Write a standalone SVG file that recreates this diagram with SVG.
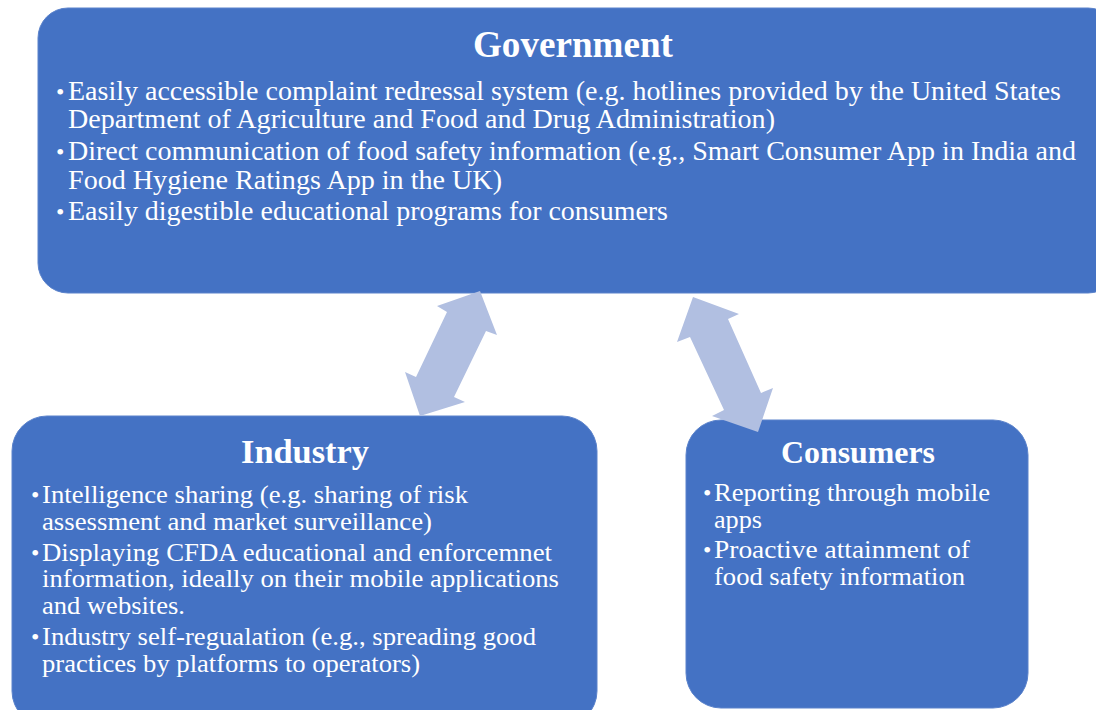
<svg xmlns="http://www.w3.org/2000/svg" width="1096" height="710" viewBox="0 0 1096 710">
<style>
.box{fill:#4472C4;stroke:#5A82CB;stroke-width:1}
.arrow{fill:#B1BFE1}
text{font-family:"Liberation Serif","Times New Roman",serif;fill:#FFFFFF}
.title{font-weight:bold;text-anchor:middle}
.g{font-size:27px}
.s{font-size:25px}
.b{font-size:24px}
</style>
<rect width="1096" height="710" fill="#FFFFFF"/>
<g id="government">
<rect class="box" x="38" y="8" width="1080" height="285" rx="30" ry="30"/>
<text class="title" x="573" y="57" font-size="37" textLength="200" lengthAdjust="spacingAndGlyphs">Government</text>
<text class="b" x="56" y="100">•</text>
<text class="g" x="68" y="100" textLength="993" lengthAdjust="spacingAndGlyphs">Easily accessible complaint redressal system (e.g. hotlines provided by the United States</text>
<text class="g" x="68" y="128" textLength="707" lengthAdjust="spacingAndGlyphs">Department of Agriculture and Food and Drug Administration)</text>
<text class="b" x="56" y="160">•</text>
<text class="g" x="68" y="160" textLength="1008" lengthAdjust="spacingAndGlyphs">Direct communication of food safety information (e.g., Smart Consumer App in India and</text>
<text class="g" x="68" y="189" textLength="434" lengthAdjust="spacingAndGlyphs">Food Hygiene Ratings App in the UK)</text>
<text class="b" x="56" y="220">•</text>
<text class="g" x="68" y="220" textLength="600" lengthAdjust="spacingAndGlyphs">Easily digestible educational programs for consumers</text>
</g>
<g id="industry">
<rect class="box" x="12" y="416" width="585" height="310" rx="35" ry="35"/>
<text class="title" x="305" y="463" font-size="34" textLength="128" lengthAdjust="spacingAndGlyphs">Industry</text>
<text class="b" x="31" y="503">•</text>
<text class="s" x="42" y="503" textLength="426" lengthAdjust="spacingAndGlyphs">Intelligence sharing (e.g. sharing of risk</text>
<text class="s" x="42" y="530" textLength="390" lengthAdjust="spacingAndGlyphs">assessment and market surveillance)</text>
<text class="b" x="31" y="561">•</text>
<text class="s" x="42" y="561" textLength="510" lengthAdjust="spacingAndGlyphs">Displaying CFDA educational and enforcemnet</text>
<text class="s" x="42" y="587" textLength="517" lengthAdjust="spacingAndGlyphs">information, ideally on their mobile applications</text>
<text class="s" x="42" y="614" textLength="143" lengthAdjust="spacingAndGlyphs">and websites.</text>
<text class="b" x="31" y="645">•</text>
<text class="s" x="42" y="645" textLength="494" lengthAdjust="spacingAndGlyphs">Industry self-regualation (e.g., spreading good</text>
<text class="s" x="42" y="672" textLength="378" lengthAdjust="spacingAndGlyphs">practices by platforms to operators)</text>
</g>
<g id="consumers">
<rect class="box" x="686" y="420" width="342" height="288" rx="35" ry="35"/>
<text class="title" x="858" y="463" font-size="32" textLength="154" lengthAdjust="spacingAndGlyphs">Consumers</text>
<text class="b" x="703" y="501">•</text>
<text class="s" x="714" y="501" textLength="276" lengthAdjust="spacingAndGlyphs">Reporting through mobile</text>
<text class="s" x="714" y="528" textLength="48" lengthAdjust="spacingAndGlyphs">apps</text>
<text class="b" x="703" y="558">•</text>
<text class="s" x="714" y="558" textLength="256" lengthAdjust="spacingAndGlyphs">Proactive  attainment of</text>
<text class="s" x="714" y="585" textLength="251" lengthAdjust="spacingAndGlyphs">food safety information</text>
</g>
<g id="connectors">
<polygon class="arrow" points="480,291 497,335 486,331 454,397 465,402 420,416 405,372 416,377 447,312 437,306"/>
<polygon class="arrow" points="693,297 739,314 728,319 761,393 773,388 758,432 712,416 724,410 690,337 677,342"/>
</g>
</svg>
